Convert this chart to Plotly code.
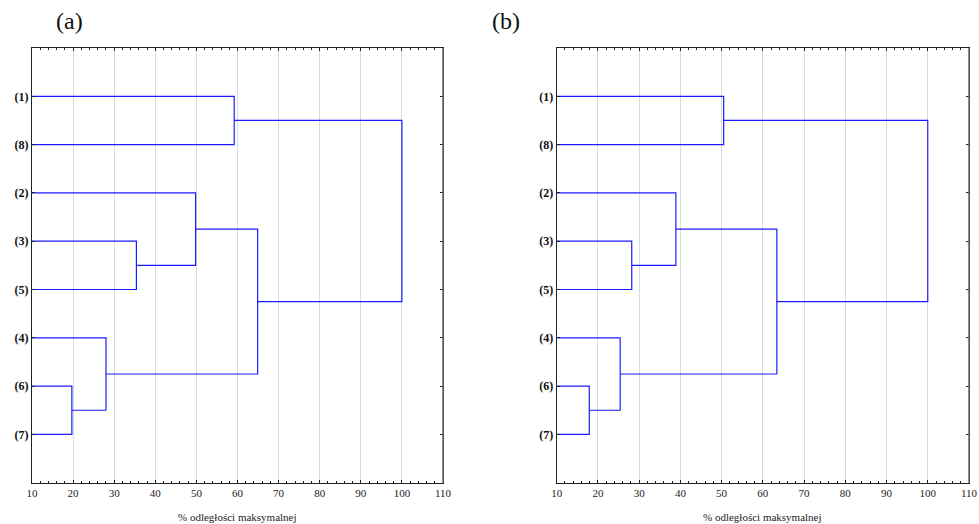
import plotly.graph_objects as go

# ---- data ----
leaf_labels = ["(1)", "(8)", "(2)", "(3)", "(5)", "(4)", "(6)", "(7)"]
# merges refer to leaves by index 0..7 (order above) and to earlier merges as 8+k
merge_pairs = [(3, 4), (2, 8), (6, 7), (5, 10), (9, 11), (0, 1), (13, 12)]
heights_a = [35.4, 49.8, 19.7, 28.0, 64.9, 59.2, 100.0]
heights_b = [28.2, 38.9, 17.9, 25.4, 63.4, 50.5, 100.0]
x_ticks = [10, 20, 30, 40, 50, 60, 70, 80, 90, 100, 110]
panel_labels = ["(a)", "(b)"]
x_title = "% odległości maksymalnej"

LINE = "#1a1aff"
SERIF = "Liberation Serif"

W, H = 979, 524


def px(X):
    return X / W


def py(Y):
    return 1 - Y / H


fig = go.Figure()


def dendro_xy(heights):
    n = len(leaf_labels)
    pos = {i: (10.0, i + 1.0) for i in range(n)}
    xs, ys = [], []
    for k, (a, b) in enumerate(merge_pairs):
        h = heights[k]
        xa, ya = pos[a]
        xb, yb = pos[b]
        xs += [xa, h, h, xb, None]
        ys += [ya, ya, yb, yb, None]
        pos[n + k] = (h, (ya + yb) / 2.0)
    return xs, ys


domains = [(px(32), px(443)), (px(556.7), px(969))]
ydom = (py(482.7), py(48))

for i, heights in enumerate([heights_a, heights_b]):
    xs, ys = dendro_xy(heights)
    sfx = "" if i == 0 else "2"
    fig.add_trace(go.Scatter(x=xs, y=ys, mode="lines",
                             line=dict(color=LINE, width=1.2),
                             xaxis="x" + sfx, yaxis="y" + sfx,
                             showlegend=False, hoverinfo="skip"))
    xa = dict(domain=list(domains[i]), range=[10, 110], tickvals=x_ticks,
              showgrid=True, gridcolor="#dadada", gridwidth=1,
              showline=True, linecolor="#222", linewidth=1, mirror="ticks",
              ticks="inside", ticklen=3, tickcolor="#222",
              minor=dict(ticks="inside", dtick=2, ticklen=2, tickcolor="#222", showgrid=False),
              tickfont=dict(family=SERIF, size=11, color="#222"),
              zeroline=False, anchor="y" + sfx, fixedrange=True, automargin=False)
    ya = dict(domain=list(ydom), range=[9, 0], tickvals=list(range(1, 9)),
              ticktext=["<b>%s</b>" % t for t in leaf_labels],
              showgrid=False, showline=True, linecolor="#222", linewidth=1,
              mirror="ticks", ticks="inside", ticklen=3, tickcolor="#222",
              tickfont=dict(family=SERIF, size=12, color="#111"),
              zeroline=False, anchor="x" + sfx, fixedrange=True, automargin=False)
    fig.update_layout(**{"xaxis" + sfx: xa, "yaxis" + sfx: ya})
    cx = (domains[i][0] + domains[i][1]) / 2
    fig.add_annotation(text=x_title, xref="paper", yref="paper", x=cx, y=py(517),
                       showarrow=False, xanchor="center", yanchor="middle",
                       font=dict(family=SERIF, size=11, color="#222"))
    fig.add_shape(type="line", xref="x" + sfx + " domain", yref="y" + sfx + " domain",
                  x0=1, x1=1, y0=0, y1=1, line=dict(color="#666", width=1.5))

fig.add_annotation(text=panel_labels[0], xref="paper", yref="paper", x=px(69), y=py(21),
                   showarrow=False, xanchor="center", yanchor="middle",
                   font=dict(family=SERIF, size=24, color="#111"))
fig.add_annotation(text=panel_labels[1], xref="paper", yref="paper", x=px(506), y=py(21),
                   showarrow=False, xanchor="center", yanchor="middle",
                   font=dict(family=SERIF, size=24, color="#111"))

fig.update_layout(template="none", width=W, height=H, margin=dict(l=0, r=0, t=0, b=0, pad=0),
                  paper_bgcolor="white", plot_bgcolor="white")

fig.write_html("out.html", config={"displayModeBar": False},
               post_script="document.body.style.margin='0';document.body.style.overflow='hidden';")
